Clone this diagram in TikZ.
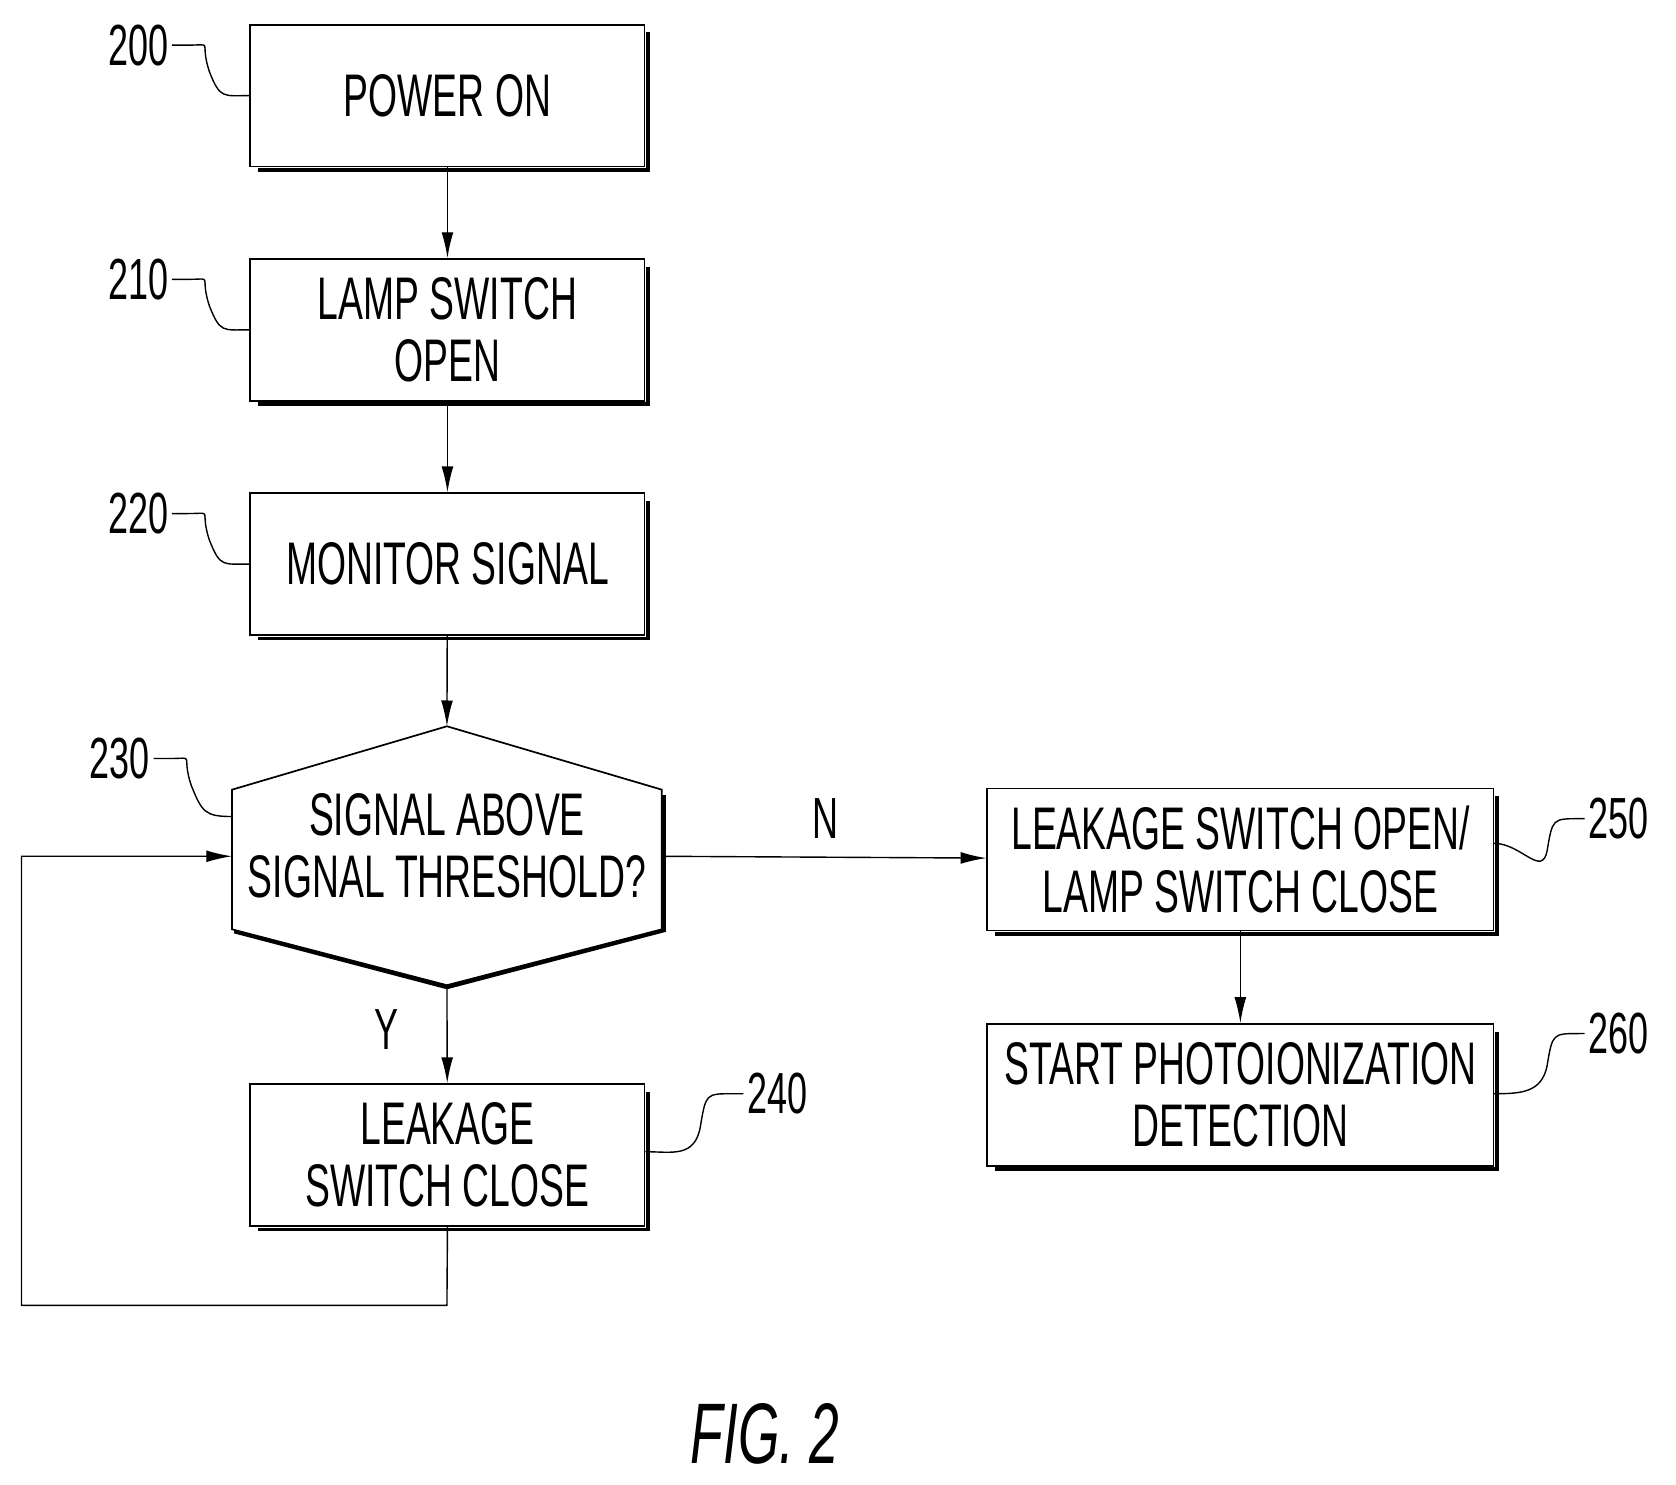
\documentclass[tikz,border=0pt]{standalone}
\usepackage{fontspec}
\setmainfont{Liberation Sans}[FakeStretch=0.62]
\usetikzlibrary{arrows.meta}
\begin{document}
\begin{tikzpicture}[x=1pt,y=-1pt,
 box/.style={draw,line width=1.6pt,minimum width=367pt,minimum height=132pt,inner sep=0pt,align=center,font=\fontsize{56}{58}\selectfont},
 lab/.style={font=\fontsize{54}{56}\selectfont},
 arr/.style={line width=1.3pt,-{Latex[length=24pt,width=11pt]}},
 lead/.style={line width=1.3pt}]
\useasboundingbox (0,0) rectangle (1560,1382);
\newcommand{\shad}[1]{\draw[line width=3.5pt] ([xshift=2.5pt,yshift=-8pt]#1.north east) -- ([xshift=2.5pt,yshift=-2.5pt]#1.south east) -- ([xshift=8pt,yshift=-2.5pt]#1.south west);}
\node[box] (b200) at (416.5,89) {POWER ON};
\node[box] (b210) at (416.5,307) {LAMP SWITCH\\OPEN};
\node[box] (b220) at (416.5,525) {MONITOR SIGNAL};
\node[box] (b240) at (416.5,1075) {LEAKAGE\\SWITCH CLOSE};
\node[box,minimum width=471pt] (b250) at (1154.5,800) {LEAKAGE SWITCH OPEN/\\LAMP SWITCH CLOSE};
\node[box,minimum width=471pt] (b260) at (1154.5,1019) {START PHOTOIONIZATION\\DETECTION};
\foreach \n in {b200,b210,b220,b240,b250,b260}{\shad{\n}}
% hexagon
\coordinate (h-t) at (416,676);
\coordinate (h-b) at (416,917);
\coordinate (h-l) at (216,797);
\coordinate (h-r) at (616,797);
\draw[line width=1.6pt] (416,676) -- (616,735) -- (616,865) -- (416,917) -- (216,865) -- (216,735) -- cycle;
\draw[line width=3.5pt] (618,740) -- (618,866) -- (416,919) -- (218,867);
\node[font=\fontsize{56}{58}\selectfont,align=center] (h) at (416,787) {SIGNAL ABOVE\\SIGNAL THRESHOLD?};
% arrows
\draw[arr] (b200) -- (b210);
\draw[arr] (b210) -- (b220);
\draw[arr] (b220) -- (h-t);
\draw[arr] (h-b) -- (b240);
\draw[arr] (h-r) -- (b250);
\draw[arr] (b250) -- (b260);
\coordinate (c1) at (416,1215);
\coordinate (c2) at (20,1215);
\coordinate (c3) at (20,797);
\draw[arr] (b240.south) -- (c1) -- (c2) -- (c3) -- (h-l);
\node[lab] (n) at (768,762) {N};
\node[lab] (y) at (360,958) {Y};
% reference labels
\node[lab,anchor=east] (l200) at (160,42) {200};
\draw[lead] (l200.east) -- ++(15,0) .. controls +(25,0) and +(-10,-30) .. ++(20,25) .. controls +(10,25) and +(-25,0) .. (b200.west);
\node[lab,anchor=east] (l210) at (160,260) {210};
\draw[lead] (l210.east) -- ++(15,0) .. controls +(25,0) and +(-10,-30) .. ++(20,25) .. controls +(10,25) and +(-25,0) .. (b210.west);
\node[lab,anchor=east] (l220) at (160,478) {220};
\draw[lead] (l220.east) -- ++(15,0) .. controls +(25,0) and +(-10,-30) .. ++(20,25) .. controls +(10,25) and +(-25,0) .. (b220.west);
\node[lab,anchor=east] (l230) at (143,706) {230};
\coordinate (h-lt) at (216,760);
\draw[lead] (l230.east) -- ++(15,0) .. controls +(25,0) and +(-10,-30) .. ++(20,25) .. controls +(10,25) and +(-25,0) .. (h-lt);
\node[lab,anchor=west] (l240) at (692,1018) {240};
\draw[lead] (l240.west) -- ++(-10,0) .. controls +(-25,0) and +(5,-30) .. ++(-30,30) .. controls +(-5,30) and +(25,0) .. ([yshift=3pt]b240.east);
\node[lab,anchor=west] (l250) at (1475,762) {250};
\draw[lead] (l250.west) -- ++(-5,0) .. controls +(-25,0) and +(5,-30) .. ++(-30,30) .. controls +(-5,25) and +(25,0) .. ([yshift=15pt]b250.east);
\node[lab,anchor=west] (l260) at (1475,962) {260};
\draw[lead] (l260.west) -- ++(-5,0) .. controls +(-25,0) and +(5,-30) .. ++(-30,30) .. controls +(-5,25) and +(25,0) .. ([yshift=1pt]b260.east);
\node[font=\fontsize{80}{80}\selectfont\itshape] (fig) at (712,1335) {FIG. 2};
\end{tikzpicture}
\end{document}
